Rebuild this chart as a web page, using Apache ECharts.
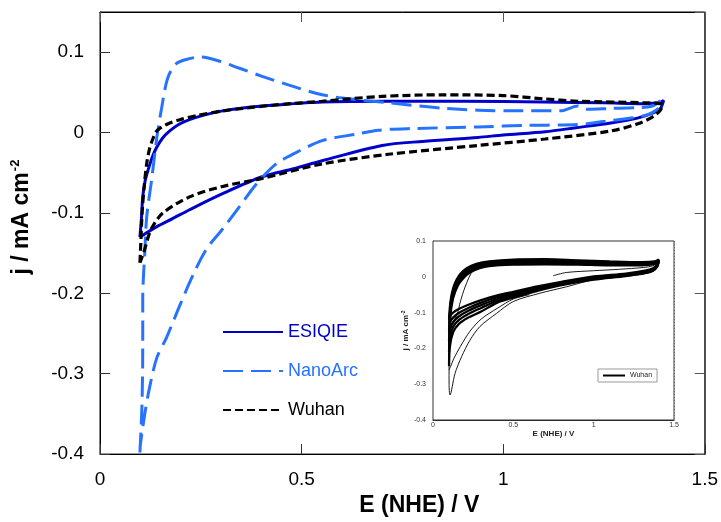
<!DOCTYPE html>
<html><head><meta charset="utf-8">
<script src="https://cdn.jsdelivr.net/npm/echarts@6/dist/echarts.min.js"></script>
<style>html,body{margin:0;padding:0;background:#fff}#c{width:721px;height:522px}</style>
</head><body><div id="c"></div><script>
// ---- Data (E in V vs NHE, j in mA cm^-2) ----
const seriesNames = ['ESIQIE', 'NanoArc', 'Wuhan'];
const xTicks = [0, 0.5, 1, 1.5];
const yTicks = [-0.4, -0.3, -0.2, -0.1, 0, 0.1];

const esiqie = [[0.099,-0.130],[0.103,-0.105],[0.106,-0.080],[0.112,-0.060],[0.119,-0.047],[0.130,-0.030],[0.141,-0.018],[0.155,-0.007],[0.173,0.002],[0.195,0.010],[0.222,0.016],[0.260,0.022],[0.304,0.027],[0.360,0.031],[0.428,0.034],[0.551,0.038],[0.716,0.039],[0.900,0.039],[1.100,0.038],[1.250,0.037],[1.350,0.036],[1.385,0.037],[1.398,0.040],[1.390,0.030],[1.375,0.025],[1.333,0.018],[1.267,0.012],[1.180,0.006],[1.104,0.001],[1.000,-0.003],[0.938,-0.006],[0.800,-0.011],[0.700,-0.016],[0.551,-0.035],[0.480,-0.045],[0.402,-0.055],[0.304,-0.076],[0.222,-0.096],[0.180,-0.107],[0.141,-0.117],[0.099,-0.130]];

const nanoArc = [[0.099,-0.398],[0.104,-0.341],[0.106,-0.267],[0.106,-0.206],[0.111,-0.150],[0.116,-0.104],[0.128,-0.059],[0.141,-0.006],[0.153,0.031],[0.168,0.068],[0.190,0.086],[0.222,0.092],[0.247,0.094],[0.289,0.090],[0.346,0.080],[0.402,0.070],[0.469,0.059],[0.551,0.047],[0.635,0.041],[0.716,0.037],[0.857,0.030],[1.020,0.027],[1.143,0.027],[1.185,0.033],[1.210,0.029],[1.267,0.030],[1.333,0.031],[1.370,0.033],[1.390,0.040],[1.385,0.030],[1.350,0.021],[1.267,0.015],[1.185,0.010],[1.060,0.009],[0.938,0.007],[0.773,0.005],[0.691,0.003],[0.635,-0.002],[0.551,-0.010],[0.486,-0.025],[0.437,-0.039],[0.388,-0.064],[0.346,-0.092],[0.304,-0.120],[0.264,-0.145],[0.230,-0.178],[0.198,-0.215],[0.165,-0.255],[0.141,-0.280],[0.123,-0.317],[0.111,-0.350],[0.099,-0.392]];

const wuhan = [[0.099,-0.162],[0.101,-0.140],[0.103,-0.115],[0.105,-0.095],[0.110,-0.065],[0.116,-0.038],[0.123,-0.020],[0.131,-0.008],[0.141,0.002],[0.165,0.010],[0.198,0.016],[0.240,0.021],[0.304,0.027],[0.428,0.034],[0.551,0.039],[0.700,0.045],[0.850,0.047],[1.000,0.046],[1.100,0.042],[1.185,0.039],[1.350,0.037],[1.395,0.035],[1.390,0.028],[1.375,0.021],[1.340,0.012],[1.267,0.002],[1.104,-0.008],[0.938,-0.016],[0.716,-0.027],[0.551,-0.039],[0.402,-0.057],[0.304,-0.067],[0.222,-0.080],[0.156,-0.100],[0.128,-0.119],[0.119,-0.131],[0.111,-0.145],[0.099,-0.162]];

// Inset: repeated Wuhan cycles
const insetCycle1 = [[0.748,0.003],[0.830,0.012],[1.000,0.017],[1.160,0.021],[1.310,0.026],[1.370,0.031],[1.395,0.040],[1.390,0.028],[1.360,0.018],[1.300,0.010],[1.200,0.003],[1.000,-0.008],[0.830,-0.028],[0.665,-0.046],[0.500,-0.069],[0.396,-0.102],[0.292,-0.139],[0.230,-0.177],[0.178,-0.223],[0.137,-0.270],[0.106,-0.330],[0.100,-0.300],[0.100,-0.200],[0.110,-0.135],[0.135,-0.118],[0.151,-0.105],[0.170,-0.070],[0.200,-0.028],[0.250,0.019],[0.310,0.036],[0.400,0.043]];
const insetCycle2 = [[0.600,-0.050],[0.500,-0.062],[0.400,-0.088],[0.300,-0.118],[0.230,-0.152],[0.170,-0.195],[0.130,-0.228],[0.110,-0.250],[0.100,-0.260]];
const insetBand1 = [[0.100,-0.120],[0.104,-0.090],[0.112,-0.060],[0.125,-0.033],[0.145,-0.010],[0.170,0.008],[0.210,0.024],[0.270,0.036],[0.350,0.043],[0.500,0.048],[0.700,0.049],[0.900,0.046],[1.100,0.043],[1.300,0.041],[1.380,0.043],[1.405,0.048],[1.395,0.034],[1.370,0.024],[1.320,0.017],[1.200,0.009],[1.000,0.001],[0.800,-0.014],[0.650,-0.027],[0.500,-0.042],[0.400,-0.052],[0.300,-0.065],[0.220,-0.078],[0.160,-0.090],[0.125,-0.100],[0.105,-0.110],[0.100,-0.120]];
const insetBand2 = [[0.100,-0.150],[0.104,-0.110],[0.112,-0.070],[0.125,-0.040],[0.148,-0.014],[0.175,0.005],[0.215,0.021],[0.275,0.033],[0.350,0.040],[0.500,0.045],[0.700,0.046],[0.900,0.043],[1.100,0.040],[1.300,0.038],[1.380,0.040],[1.405,0.046],[1.395,0.032],[1.370,0.022],[1.320,0.015],[1.200,0.007],[1.000,-0.002],[0.800,-0.017],[0.650,-0.030],[0.500,-0.046],[0.400,-0.057],[0.300,-0.072],[0.220,-0.087],[0.160,-0.101],[0.125,-0.114],[0.105,-0.128],[0.100,-0.150]];
const insetBand3 = [[0.100,-0.180],[0.103,-0.130],[0.110,-0.080],[0.125,-0.046],[0.150,-0.018],[0.180,0.002],[0.220,0.018],[0.280,0.030],[0.350,0.037],[0.500,0.042],[0.700,0.043],[0.900,0.040],[1.100,0.037],[1.300,0.036],[1.380,0.038],[1.405,0.045],[1.395,0.030],[1.370,0.020],[1.320,0.013],[1.200,0.005],[1.000,-0.004],[0.800,-0.019],[0.650,-0.033],[0.500,-0.050],[0.400,-0.062],[0.300,-0.079],[0.220,-0.095],[0.160,-0.111],[0.125,-0.127],[0.105,-0.148],[0.100,-0.180]];
const insetBand4 = [[0.100,-0.210],[0.103,-0.150],[0.110,-0.090],[0.127,-0.050],[0.153,-0.020],[0.185,0.000],[0.225,0.015],[0.285,0.027],[0.350,0.033],[0.500,0.038],[0.700,0.039],[0.900,0.037],[1.100,0.034],[1.300,0.034],[1.380,0.037],[1.405,0.044],[1.395,0.029],[1.370,0.018],[1.320,0.011],[1.200,0.003],[1.000,-0.006],[0.800,-0.021],[0.650,-0.036],[0.500,-0.054],[0.400,-0.067],[0.300,-0.087],[0.220,-0.104],[0.160,-0.121],[0.125,-0.140],[0.105,-0.170],[0.100,-0.210]];
const insetBand5 = [[0.100,-0.250],[0.102,-0.180],[0.108,-0.110],[0.125,-0.060],[0.155,-0.024],[0.190,-0.003],[0.230,0.012],[0.290,0.024],[0.350,0.030],[0.500,0.034],[0.700,0.035],[0.900,0.034],[1.100,0.032],[1.300,0.032],[1.380,0.036],[1.405,0.043],[1.395,0.028],[1.370,0.017],[1.320,0.010],[1.200,0.002],[1.000,-0.008],[0.800,-0.023],[0.650,-0.039],[0.500,-0.058],[0.400,-0.072],[0.300,-0.097],[0.220,-0.114],[0.160,-0.132],[0.125,-0.155],[0.105,-0.195],[0.100,-0.250]];

// ---- Chart ----
const FONT = "'Liberation Sans', Arial, sans-serif";
const colors = { ESIQIE: '#0000CC', NanoArc: '#2673FF', Wuhan: '#000000' };
const fmt = v => {
  const r = Math.round(v * 10) / 10;
  if (Math.abs(v - r) > 1e-6) return '';
  return String(r === 0 ? 0 : r);
};
const xFmt = v => {
  const r = Math.round(v * 2) / 2;
  if (Math.abs(v - r) > 1e-6) return '';
  return String(r);
};

const chart = echarts.init(document.getElementById('c'), null, { renderer: 'canvas' });

const insetName = 'Wuhan-inset';
const insetSeries = [insetBand1, insetBand2, insetBand3, insetBand4, insetBand5, insetCycle1, insetCycle2].map((d, i) => ({
  name: insetName, type: 'line', xAxisIndex: 2, yAxisIndex: 2, data: d,
  showSymbol: false, symbol: 'none', smooth: 0.3, z: 5,
  itemStyle: { color: '#000' },
  lineStyle: { color: '#000', width: i < 5 ? 2.3 : 0.9, type: 'solid' }
}));

const axLine = (c) => ({ show: true, onZero: false, lineStyle: { color: c, width: 1 } });

chart.setOption({
  animation: false,
  textStyle: { fontFamily: FONT },
  grid: [
    { left: 100, top: 12, width: 605, height: 449, show: true, borderColor: '#000', borderWidth: 1, backgroundColor: 'transparent' },
    { left: 433, top: 241, width: 241, height: 179, show: true, borderColor: '#333', borderWidth: 1, backgroundColor: '#fff', z: 4 }
  ],
  legend: [
    {
      data: seriesNames.map(n => ({ name: n, textStyle: { color: colors[n] } })),
      orient: 'vertical', left: 217, top: 318, itemWidth: 60, itemHeight: 14, itemGap: 21,
      itemStyle: { opacity: 0 },
      textStyle: { fontSize: 18, fontFamily: FONT }, selectedMode: false
    },
    {
      data: [insetName], formatter: () => 'Wuhan', orient: 'horizontal',
      left: 598, top: 369, itemWidth: 22, itemHeight: 6, itemGap: 2,
      itemStyle: { opacity: 0 },
      padding: [3, 5, 3, 4], borderColor: '#999', borderWidth: 1, backgroundColor: '#fff',
      textStyle: { fontSize: 7, color: '#222', fontFamily: FONT }, selectedMode: false, z: 10
    }
  ],
  xAxis: [
    {
      gridIndex: 0, type: 'value', min: xTicks[0], max: xTicks[xTicks.length - 1], interval: 0.5,
      name: 'E (NHE) / V', nameLocation: 'middle', nameGap: 34,
      nameTextStyle: { fontSize: 23, fontWeight: 'bold', color: '#000', padding: [0, 0, 0, 34] },
      axisLine: axLine('#000'),
      axisTick: { inside: true, length: 10, lineStyle: { color: '#333' } },
      axisLabel: { fontSize: 19, color: '#000', margin: 16, formatter: xFmt },
      splitLine: { show: false }
    },
    {
      gridIndex: 0, type: 'value', position: 'top', min: 0, max: 1.5, interval: 0.5,
      axisLine: axLine('#000'),
      axisTick: { inside: true, length: 10, lineStyle: { color: '#555' } },
      axisLabel: { show: false }, splitLine: { show: false }
    },
    {
      gridIndex: 1, type: 'value', min: 0, max: 1.5, interval: 0.5,
      name: 'E (NHE) / V', nameLocation: 'middle', nameGap: 8,
      nameTextStyle: { fontSize: 8, fontWeight: 'bold', color: '#222' },
      axisLine: axLine('#222'),
      axisTick: { show: false },
      axisLabel: { fontSize: 7, color: '#333', margin: 2, formatter: xFmt },
      splitLine: { show: true, lineStyle: { color: '#aaa', type: [1, 2], width: 1 } }
    }
  ],
  yAxis: [
    {
      gridIndex: 0, type: 'value', min: yTicks[0], max: 0.15, interval: 0.1,
      name: '{a|j / mA cm}{s|-2}', nameLocation: 'middle', nameGap: 66,
      nameTextStyle: {
        padding: [0, 0, 0, 32],
        rich: {
          a: { fontSize: 23, fontWeight: 'bold', color: '#000', fontFamily: FONT },
          s: { fontSize: 13, fontWeight: 'bold', color: '#000', fontFamily: FONT, padding: [0, 0, 12, 1] }
        }
      },
      axisLine: axLine('#000'),
      axisTick: { inside: true, length: 10, lineStyle: { color: '#333' } },
      axisLabel: { fontSize: 19, color: '#000', margin: 16, formatter: fmt, showMaxLabel: false },
      splitLine: { show: false }
    },
    {
      gridIndex: 0, type: 'value', position: 'right', min: -0.4, max: 0.15, interval: 0.1,
      axisLine: axLine('#555'),
      axisTick: { inside: true, length: 10, lineStyle: { color: '#555' } },
      axisLabel: { show: false }, splitLine: { show: false }
    },
    {
      gridIndex: 1, type: 'value', min: -0.4, max: 0.1, interval: 0.1,
      name: '{a|j / mA cm}{s|-2}', nameLocation: 'middle', nameGap: 18,
      nameTextStyle: {
        rich: {
          a: { fontSize: 8, fontWeight: 'bold', color: '#222', fontFamily: FONT },
          s: { fontSize: 5, fontWeight: 'bold', color: '#222', fontFamily: FONT, padding: [0, 0, 5, 0] }
        }
      },
      axisLine: axLine('#222'),
      axisTick: { show: false },
      axisLabel: { fontSize: 7, color: '#333', margin: 7, formatter: fmt },
      splitLine: { show: true, lineStyle: { color: '#aaa', type: [1, 2], width: 1 } }
    }
  ],
  series: [
    { name: 'ESIQIE', type: 'line', xAxisIndex: 0, yAxisIndex: 0, data: esiqie, showSymbol: false, symbol: 'none', smooth: 0.3,
      itemStyle: { color: colors.ESIQIE }, lineStyle: { color: colors.ESIQIE, width: 3 } },
    { name: 'NanoArc', type: 'line', xAxisIndex: 0, yAxisIndex: 0, data: nanoArc, showSymbol: false, symbol: 'none', smooth: 0.3,
      itemStyle: { color: colors.NanoArc }, lineStyle: { color: colors.NanoArc, width: 3, type: [20, 8] } },
    { name: 'Wuhan', type: 'line', xAxisIndex: 0, yAxisIndex: 0, data: wuhan, showSymbol: false, symbol: 'none', smooth: 0.3,
      itemStyle: { color: colors.Wuhan }, lineStyle: { color: colors.Wuhan, width: 3.2, type: [8, 4] } },
    ...insetSeries
  ]
});
</script></body></html>
